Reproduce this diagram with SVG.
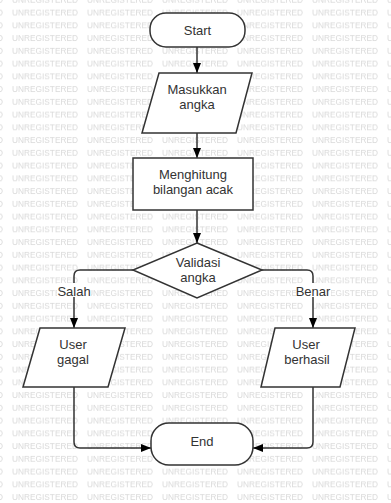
<svg xmlns="http://www.w3.org/2000/svg" width="391" height="503" viewBox="0 0 391 503">
<style>
.wm{font-family:"Liberation Sans",Arial,sans-serif;font-size:8.3px;fill:#d9d9d9}
.node{fill:#fff;stroke:#333;stroke-width:1.5}
.t{font-family:"Liberation Sans",Arial,sans-serif;font-size:13px;fill:#333;text-anchor:middle}
.edge{fill:none;stroke:#333;stroke-width:1.5}
.lbg{fill:#fff}
</style>
<defs>
<pattern id="wmp" x="12" y="6.7" width="75" height="12.75" patternUnits="userSpaceOnUse">
<text class="wm" x="0" y="9" textLength="66" lengthAdjust="spacingAndGlyphs">UNREGISTERED</text>
</pattern>
<marker id="ah" viewBox="0 0 10 10" refX="10" refY="5" markerWidth="10" markerHeight="10" markerUnits="userSpaceOnUse" orient="auto">
<path d="M0,1 L10,5 L0,9 Z" fill="#000"/>
</marker>
</defs>
<rect width="391" height="503" fill="#fff"/>
<rect width="391" height="503" fill="url(#wmp)"/>
<g id="connectors">
<path class="edge" d="M197,47 V73" marker-end="url(#ah)"/>
<path class="edge" d="M197,133 V158" marker-end="url(#ah)"/>
<path class="edge" d="M197,210 V243" marker-end="url(#ah)"/>
<path class="edge" d="M133,270 H80 Q74,270 74,276 V328" marker-end="url(#ah)"/>
<path class="edge" d="M262,270 H307 Q313,270 313,276 V328" marker-end="url(#ah)"/>
<path class="edge" d="M74,387 V442 Q74,448 80,448 H151" marker-end="url(#ah)"/>
<path class="edge" d="M313,387 V442 Q313,448 307,448 H253" marker-end="url(#ah)"/>
<rect class="lbg" x="57" y="283" width="34" height="14"/>
<text class="t" x="74" y="295.5">Salah</text>
<rect class="lbg" x="296" y="283" width="35" height="14"/>
<text class="t" x="313" y="295.5">Benar</text>
</g>
<g id="start">
<rect class="node" x="150" y="13" width="95" height="34" rx="16"/>
<text class="t" x="197.5" y="34.5">Start</text>
</g>
<g id="masukkan">
<polygon class="node" points="159,73 252,73 236,133 142,133"/>
<text class="t" x="197" y="94">Masukkan</text>
<text class="t" x="197" y="108.6">angka</text>
</g>
<g id="menghitung">
<rect class="node" x="133" y="158" width="120" height="52"/>
<text class="t" x="193" y="179">Menghitung</text>
<text class="t" x="193" y="193.6">bilangan acak</text>
</g>
<g id="validasi">
<polygon class="node" points="197,243 262,270 197,298 133,270"/>
<text class="t" x="198" y="267">Validasi</text>
<text class="t" x="198" y="281.6">angka</text>
</g>
<g id="gagal">
<polygon class="node" points="40,328 125,328 108,387 23,387"/>
<text class="t" x="73" y="349">User</text>
<text class="t" x="73" y="363.6">gagal</text>
</g>
<g id="berhasil">
<polygon class="node" points="275,328 355,328 340,387 261,387"/>
<text class="t" x="306" y="349">User</text>
<text class="t" x="307" y="363.6">berhasil</text>
</g>
<g id="end">
<rect class="node" x="151" y="423" width="102" height="42" rx="18"/>
<text class="t" x="202" y="445.5">End</text>
</g>
</svg>
